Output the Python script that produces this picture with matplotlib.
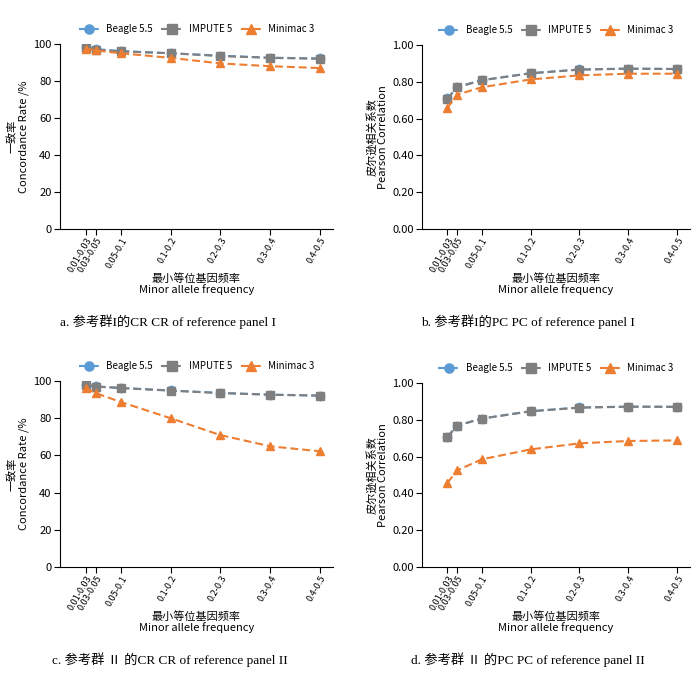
import matplotlib
matplotlib.use("Agg")
import matplotlib.pyplot as plt

plt.rcParams['font.family'] = ['Noto Sans CJK SC', 'DejaVu Sans']

maf_pos = [0.03, 0.05, 0.1, 0.2, 0.3, 0.4, 0.5]
maf_labels = ["0.01-0.03", "0.03-0.05", "0.05-0.1", "0.1-0.2", "0.2-0.3", "0.3-0.4", "0.4-0.5"]
methods = ["Beagle 5.5", "IMPUTE 5", "Minimac 3"]

# panel a: CR reference panel I
a_beagle = [98.2, 97.2, 96.2, 95.0, 93.7, 92.6, 92.2]
a_impute = [98.0, 97.0, 96.0, 95.0, 93.5, 92.5, 92.0]
a_minimac = [97.5, 96.5, 95.0, 92.5, 89.5, 88.0, 87.0]
# panel b: PC reference panel I
b_beagle = [0.710, 0.772, 0.809, 0.847, 0.867, 0.872, 0.870]
b_impute = [0.708, 0.770, 0.808, 0.846, 0.866, 0.871, 0.869]
b_minimac = [0.659, 0.730, 0.770, 0.813, 0.835, 0.844, 0.844]
# panel c: CR reference panel II
c_beagle = [97.9, 97.1, 96.3, 94.9, 93.6, 92.7, 92.2]
c_impute = [97.7, 97.0, 96.2, 94.8, 93.5, 92.6, 92.1]
c_minimac = [96.0, 93.5, 88.7, 80.0, 70.9, 64.9, 62.2]
# panel d: PC reference panel II
d_beagle = [0.708, 0.769, 0.807, 0.847, 0.867, 0.872, 0.871]
d_impute = [0.707, 0.768, 0.806, 0.846, 0.866, 0.871, 0.870]
d_minimac = [0.458, 0.525, 0.585, 0.639, 0.672, 0.685, 0.688]

captions = ["a. 参考群I的CR CR of reference panel I",
            "b. 参考群I的PC PC of reference panel I",
            "c. 参考群 Ⅱ 的CR CR of reference panel II",
            "d. 参考群 Ⅱ 的PC PC of reference panel II"]

colors = ["#5B9BD5", "#7F7F7F", "#ED7D31"]
markers = ["o", "s", "^"]

W, H = 700, 675
fig = plt.figure(figsize=(7, 6.75), dpi=100)

# axes boxes in pixels: left, top, right, bottom
boxes = [(60, 44, 333, 229), (422, 45, 690, 229),
         (60, 381, 333, 567), (422, 383, 690, 567)]

panels = [(a_beagle, a_impute, a_minimac, 'cr'),
          (b_beagle, b_impute, b_minimac, 'pc'),
          (c_beagle, c_impute, c_minimac, 'cr'),
          (d_beagle, d_impute, d_minimac, 'pc')]

cap_x = [168, 528, 170, 528]
cap_y = [322, 322, 660, 660]

for i, (box, (sb, si, sm, kind)) in enumerate(zip(boxes, panels)):
    l, t, r, b = box
    ax = fig.add_axes([l / W, 1 - b / H, (r - l) / W, (b - t) / H])
    lines = []
    for s, c, m, name in zip([sb, si, sm], colors, markers, methods):
        ln, = ax.plot(maf_pos, s, color=c, marker=m, markersize=6,
                      linestyle=(0, (3.8, 1.9)), linewidth=1.5, label=name,
                      markeredgecolor=c)
        lines.append(ln)
    ax.set_xlim(-0.022, 0.526)
    ax.set_xticks(maf_pos)
    ax.set_xticklabels(maf_labels, rotation=60, ha='right',
                       rotation_mode='anchor', fontsize=6.5)
    if kind == 'cr':
        ax.set_ylim(0, 100)
        ax.set_yticks([0, 20, 40, 60, 80, 100])
        ax.set_yticklabels(["0", "20", "40", "60", "80", "100"])
        ax.set_ylabel("一致率\nConcordance Rate /%", fontsize=8, linespacing=1.1, labelpad=3)
    else:
        ax.set_ylim(0, 1.0)
        ax.set_yticks([0, 0.2, 0.4, 0.6, 0.8, 1.0])
        ax.set_yticklabels(["0.00", "0.20", "0.40", "0.60", "0.80", "1.00"])
        ax.set_ylabel("皮尔逊相关系数\nPearson Correlation", fontsize=8, linespacing=1.1, labelpad=3)
    ax.tick_params(axis='y', labelsize=8, length=4, width=0.8, pad=2)
    ax.tick_params(axis='x', length=4, width=0.8, pad=1)
    for sp in ['top', 'right']:
        ax.spines[sp].set_visible(False)
    for sp in ['left', 'bottom']:
        ax.spines[sp].set_linewidth(0.8)
    ax.set_xlabel("最小等位基因频率\nMinor allele frequency", fontsize=8,
                  linespacing=1.1, labelpad=-1)
    ax.legend(handles=lines, loc='lower center', bbox_to_anchor=(0.5, 1.0),
              ncol=3, frameon=False, fontsize=7, handlelength=2.1,
              columnspacing=0.9, handletextpad=0.7, borderaxespad=0.6,
              markerscale=1.1)
    fig.text(cap_x[i] / W, 1 - cap_y[i] / H, captions[i],
             ha='center', va='center', fontsize=9.5,
             family=['Liberation Serif', 'Noto Sans CJK SC'])

fig.savefig("out.png", dpi=100, facecolor='white')
